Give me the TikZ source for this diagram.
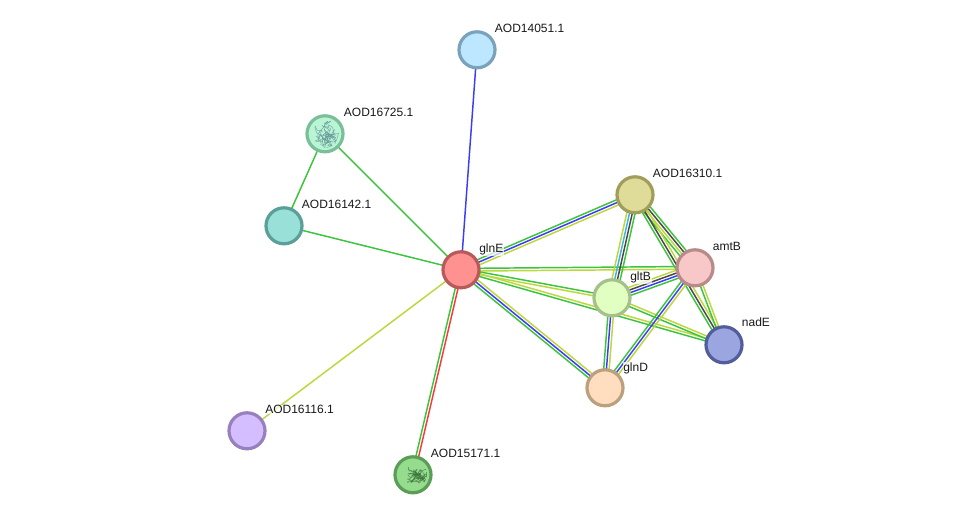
\documentclass[tikz,border=0pt]{standalone}
\usepackage{fontspec}
\setmainfont{Liberation Sans}
\usetikzlibrary{calc,backgrounds}
\definecolor{lgreen}{HTML}{3CC43C}
\definecolor{lblue}{HTML}{3C3CF4}
\definecolor{lyellow}{HTML}{BCD83C}
\definecolor{ldark}{HTML}{484848}
\definecolor{lcyan}{HTML}{3CB4E0}
\definecolor{lred}{HTML}{F43C3C}
\tikzset{
  prot/.style 2 args={/utils/exec={\definecolor{pfill}{HTML}{#1}\definecolor{pline}{HTML}{#2}},
    circle,draw=pline,fill=pfill,line width=2.4pt,minimum size=27pt,inner sep=0pt},
  plabel/.style={anchor=base west,inner sep=0pt,font=\fontsize{9pt}{10pt}\selectfont,text=black!90},
  halo/.style={plabel,fill=white,fill opacity=0.7,text opacity=1,inner sep=0.4pt},
  edgeG/.style={line width=1.1pt,lgreen},
  edgeB/.style={line width=1.1pt,lblue},
  edgeY/.style={line width=1.1pt,lyellow},
  edgeD/.style={line width=1.1pt,ldark},
  edgeC/.style={line width=1.1pt,lcyan},
  edgeR/.style={line width=1.1pt,lred},
}
% A bundle of parallel evidence lines between two proteins; the styles are listed
% from the left-hand side of the direction first node -> second node.
\newcommand{\linkbundle}[3]{%
  \foreach \c [count=\n] in {#3}{\xdef\bundletotal{\n}}%
  \foreach \c [count=\n] in {#3}{%
    \pgfmathsetmacro\off{((\bundletotal+1)/2-\n)*2.05}%
    \draw[\c] ($(#1)!\off pt!90:(#2)$) -- ($(#2)!\off pt!-90:(#1)$);
  }%
}
% A folded chain inside a protein bubble: a wandering curve pulled back to the
% centre and kept inside the ring. Arguments: node, seed, colour, x stretch, y stretch.
\newcommand{\foldtexture}[5]{%
  \pgfmathsetseed{#2}%
  \xdef\chainx{0}\xdef\chainy{0}%
  \begin{scope}[shift={(#1)}]
    \clip (0,0) circle (14);
    \foreach \k in {1,...,80}{%
      \pgfmathsetmacro\ex{0.8*\chainx+rand*#4}%
      \pgfmathsetmacro\ey{0.8*\chainy+rand*#5}%
      \pgfmathsetmacro\bx{\chainx+rand*3}%
      \pgfmathsetmacro\by{\chainy+rand*3}%
      \pgfmathsetmacro\cx{\ex+rand*3}%
      \pgfmathsetmacro\cy{\ey+rand*3}%
      \draw[line width=0.25pt,#3] (\chainx,\chainy) .. controls (\bx,\by) and (\cx,\cy) .. (\ex,\ey);
      \xdef\chainx{\ex}\xdef\chainy{\ey}%
    }
  \end{scope}%
}
\begin{document}
\begin{tikzpicture}[x=0.75pt,y=-0.75pt]
\useasboundingbox (0,-0.8) rectangle (975,519.2);

% Protein bubbles
\node[prot={FF9191}{B85A5A}] (glnE) at (461,269) {};
\node[prot={BDE6FF}{7BA2BC}] (a14051) at (477,49) {};
\node[prot={B9F5D5}{7BBF9A}] (a16725) at (325,133) {};
\node[prot={98E0D8}{5A9F98}] (a16142) at (284,225) {};
\node[prot={DEDC98}{A09E5A}] (a16310) at (635,194) {};
\node[prot={F8C8C8}{B88A8A}] (amtB) at (695,267) {};
\node[prot={E0FFC0}{A5C08A}] (gltB) at (612,297) {};
\node[prot={9BA5DF}{525E9C}] (nadE) at (724,344) {};
\node[prot={FFDDBE}{BBA080}] (glnD) at (605,387) {};
\node[prot={D4BEFF}{9880BC}] (a16116) at (247,430) {};
\node[prot={96DC8E}{5A9E56}] (a15171) at (413,474) {};

\foldtexture{a16725}{17}{black!35!teal!60!white}{7}{7}
\foldtexture{a15171}{29}{black!70!green!75!white}{7}{5}

% Evidence lines run underneath the bubbles
\begin{scope}[on background layer]
  \fill[white] (0,-0.8) rectangle (975,519.2);
  \linkbundle{glnE}{a14051}{edgeB}
  \linkbundle{a16725}{glnE}{edgeG}
  \linkbundle{a16725}{a16142}{edgeG}
  \linkbundle{a16142}{glnE}{edgeG}
  \linkbundle{glnE}{a16116}{edgeY}
  \linkbundle{glnE}{a15171}{edgeR,edgeG}
  \linkbundle{glnE}{a16310}{edgeG,edgeB,edgeY}
  \linkbundle{glnE}{amtB}{edgeG,edgeY}
  \linkbundle{glnE}{gltB}{edgeG,edgeY}
  \linkbundle{glnE}{nadE}{edgeY,edgeG}
  \linkbundle{glnE}{glnD}{edgeY,edgeB,edgeG}
  \linkbundle{a16310}{gltB}{edgeG,edgeD,edgeC,edgeY}
  \linkbundle{a16310}{amtB}{edgeG,edgeD,edgeY,edgeG}
  \linkbundle{a16310}{nadE}{edgeY,edgeD,edgeG}
  \linkbundle{amtB}{nadE}{edgeY,edgeG}
  \linkbundle{gltB}{amtB}{edgeY,edgeD,edgeB,edgeG}
  \linkbundle{gltB}{glnD}{edgeY,edgeB,edgeG}
  \linkbundle{gltB}{nadE}{edgeY,edgeG}
  \linkbundle{amtB}{glnD}{edgeY,edgeB,edgeG}
\end{scope}

% Protein names
\node[plabel] (t14051) at (494.7,32) {AOD14051.1};
\node[plabel] (t16725) at (343.7,116) {AOD16725.1};
\node[plabel] (t16142) at (301.7,208) {AOD16142.1};
\node[plabel] (t16310) at (652.7,177) {AOD16310.1};
\node[plabel] (tamtB) at (712.7,250) {amtB};
\node[halo] (tglnE) at (478.5,252) {glnE};
\node[halo] (tgltB) at (629.5,280) {gltB};
\node[plabel] (tnadE) at (741.7,326) {nadE};
\node[halo] (tglnD) at (622.5,370.5) {glnD};
\node[halo] (t16116) at (264.5,413) {AOD16116.1};
\node[plabel] (t15171) at (430.7,457) {AOD15171.1};
\end{tikzpicture}
\end{document}
